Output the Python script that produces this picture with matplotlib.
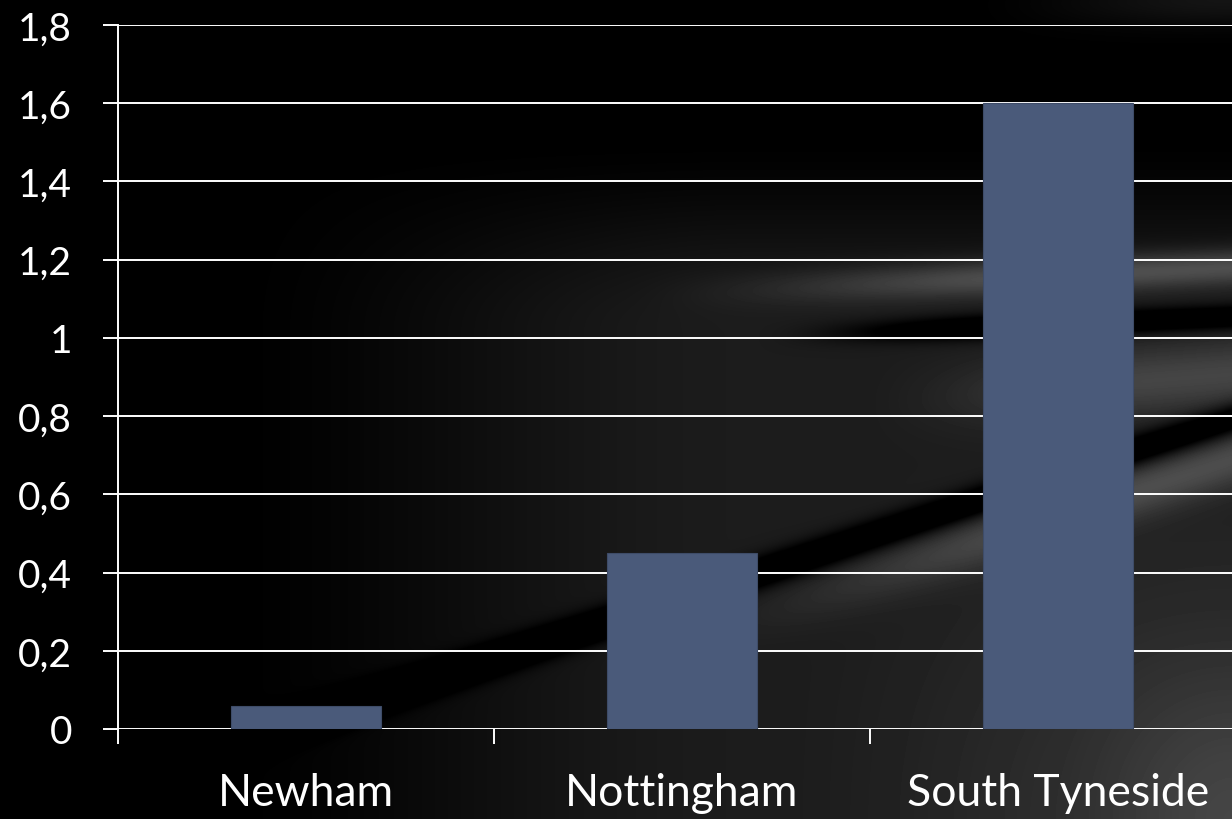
import matplotlib

matplotlib.use("Agg")
import matplotlib.pyplot as plt
import numpy as np

categories = ["Newham", "Nottingham", "South Tyneside"]
values = [0.06, 0.45, 1.60]
y_ticks = [0, 0.2, 0.4, 0.6, 0.8, 1.0, 1.2, 1.4, 1.6, 1.8]
y_labels = ["0", "0,2", "0,4", "0,6", "0,8", "1", "1,2", "1,4", "1,6", "1,8"]

W, H = 1232, 820
BAR_COLOR = "#4a5a7a"
FONT = ["Lato", "DejaVu Sans"]


def _ramp(v, a, b):
    t = np.clip((v - a) / (b - a), 0, 1)
    return t * t * (3 - 2 * t)


def _background(w: int, h: int) -> np.ndarray:
    """Black backdrop with soft grey sheen rising towards the right (pixel coords)."""
    x, y = np.meshgrid(np.arange(w, dtype=float), np.arange(h, dtype=float))

    def line(x0, y0, x1, y1):
        return y0 + (y1 - y0) * (x - x0) / (x1 - x0)

    def band(center, width, amp):
        return amp * np.exp(-((y - center) / width) ** 2)

    img = 0.11 * _ramp(x, 200, 750) * _ramp(y, 130, 330)
    img += 0.10 * _ramp(x, 750, 1232) * _ramp(y, 380, 820)
    img += 0.06 * _ramp(x, 1050, 1232) * _ramp(y, 600, 820)
    # upper light streak and the dark gap below it
    img += band(line(700, 292, 1232, 268), 18, 0.22) * _ramp(x, 620, 1050)
    img -= band(line(800, 335, 1232, 318), 12, 0.22) * _ramp(x, 750, 1000)
    img += band(line(900, 400, 1232, 375), 35, 0.16) * _ramp(x, 850, 1150)
    # long diagonal: dark crease with a sheen just under it
    crease = line(400, 690, 1232, 420)
    img -= band(crease, 16, 0.25)
    img += band(crease + 40, 28, 0.18) * _ramp(x, 650, 1100)
    img += band(line(1000, 5, 1232, 0), 25, 0.08) * _ramp(x, 950, 1232)
    return np.clip(img, 0, 0.42)


fig = plt.figure(figsize=(W / 100, H / 100), dpi=100, facecolor="black")
bg = fig.add_axes([0, 0, 1, 1])
bg.imshow(_background(W, H), cmap="gray", vmin=0, vmax=1, aspect="auto")
bg.axis("off")

left, bottom, top = 118 / W, 1 - 730 / H, 1 - 26 / H
width = 376 * 3 / W
ax = fig.add_axes([left, bottom, width, top - bottom])
ax.patch.set_alpha(0)

pos = np.arange(len(categories))
ax.bar(pos, values, width=0.4, color=BAR_COLOR, edgecolor="#3e4c68",
       linewidth=0.8, zorder=3)

ax.set_xlim(-0.5, len(categories) - 0.5)
ax.set_ylim(0, 1.8)
ax.set_yticks(y_ticks)
ax.set_yticklabels(y_labels)
ax.set_xticks(pos - 0.5, minor=False)
ax.set_xticklabels([])
ax.set_xticks(pos, minor=True)
ax.set_xticklabels(categories, minor=True)

for yv in y_ticks:
    ax.axhline(yv, color="white", linewidth=1.4, zorder=2)

for side in ("top", "right", "bottom"):
    ax.spines[side].set_visible(False)
ax.spines["left"].set_color("white")
ax.spines["left"].set_linewidth(1.4)

ax.tick_params(axis="y", which="major", length=11, width=1.4, color="white",
               labelcolor="white", labelsize=28, pad=22)
ax.tick_params(axis="x", which="major", length=11, width=1.4, color="white")
ax.tick_params(axis="x", which="minor", length=0, labelcolor="white",
               labelsize=32, pad=31)
for lab in ax.get_yticklabels() + ax.get_xticklabels(minor=True):
    lab.set_family(FONT)

fig.savefig("out.png", dpi=100, facecolor="black")
